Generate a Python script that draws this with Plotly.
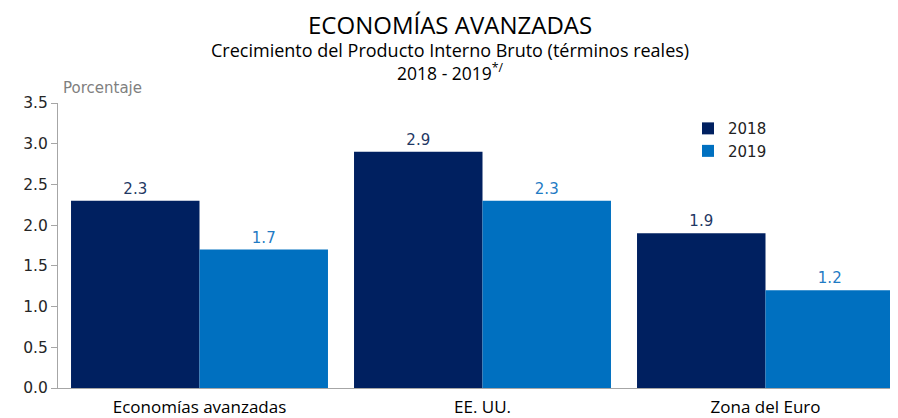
import plotly.graph_objects as go

categorias = ['Economías avanzadas', 'EE. UU.', 'Zona del Euro']
valores_2018 = [2.3, 2.9, 1.9]
valores_2019 = [1.7, 2.3, 1.2]
ticks_y = [0.0, 0.5, 1.0, 1.5, 2.0, 2.5, 3.0, 3.5]

titulo = 'ECONOMÍAS AVANZADAS'
subtitulo = 'Crecimiento del Producto Interno Bruto (términos reales)'
periodo = '2018 - 2019<sup>*/</sup>'

color_2018 = '#002060'
color_2019 = '#0070C0'

# la pagina deja 8px de margen en el body
desp = 8
alto_area = 286
ancho_area = 840
ancho_cat = 283  # px por categoria en la referencia

fig = go.Figure()
fig.add_trace(go.Bar(x=categorias, y=valores_2018, name='2018',
                     marker_color=color_2018, marker_line_width=0,
                     texttemplate='%{y:.1f}', textposition='outside',
                     textfont=dict(family='DejaVu Sans', size=15, color='#1F3864'),
                     cliponaxis=False))
fig.add_trace(go.Bar(x=categorias, y=valores_2019, name='2019',
                     marker_color=color_2019, marker_line_width=0,
                     texttemplate='%{y:.1f}', textposition='outside',
                     textfont=dict(family='DejaVu Sans', size=15, color='#1F7BC4'),
                     cliponaxis=False))

fig.update_layout(
    width=898 - desp, height=418 - desp,
    margin=dict(l=58 - desp, r=0, t=95, b=22),
    paper_bgcolor='white', plot_bgcolor='white',
    barmode='group', bargap=0.092, bargroupgap=0,
    showlegend=True,
    legend=dict(x=0.75, y=0.968, xanchor='left', yanchor='top',
                font=dict(family='DejaVu Sans', size=15, color='#222222'),
                bgcolor='rgba(0,0,0,0)', itemwidth=30, tracegroupgap=2),
    font=dict(family='DejaVu Sans'),
)

fig.update_yaxes(range=[0, 3.5], tickvals=ticks_y, tickformat='.1f',
                 showgrid=False, zeroline=False,
                 showline=True, linecolor='#A6A6A6', linewidth=1,
                 ticks='outside', ticklen=6, tickcolor='#A6A6A6',
                 tickfont=dict(family='DejaVu Sans', size=15.5, color='#262626'))
fig.update_xaxes(range=[-0.5, -0.5 + ancho_area / ancho_cat],
                 showgrid=False, showline=True, linecolor='#A6A6A6', linewidth=1,
                 ticks='outside', ticklen=4, tickcolor='rgba(0,0,0,0)',
                 tickfont=dict(family='Open Sans', size=17, color='#000000'))

# titulo en un solo bloque de tres lineas
texto_titulo = ('<span style="font-size:24px">' + titulo + '</span><br>'
                '<span style="font-size:18px">' + subtitulo + '</span><br>'
                + periodo)
fig.add_annotation(text=texto_titulo, xref='paper', yref='paper',
                   x=(450 - 58) / ancho_area, y=1 + (102 - 45) / alto_area,
                   xanchor='center', yanchor='middle', showarrow=False,
                   font=dict(family='Open Sans', size=17.5, color='#000000'))

fig.add_annotation(text='Porcentaje', xref='paper', yref='paper',
                   x=(61 - 58) / ancho_area, y=1 + (102 - 87) / alto_area,
                   xanchor='left', yanchor='middle', showarrow=False,
                   font=dict(family='DejaVu Sans', size=15, color='#7F7F7F'))

fig.write_html('out.html')
